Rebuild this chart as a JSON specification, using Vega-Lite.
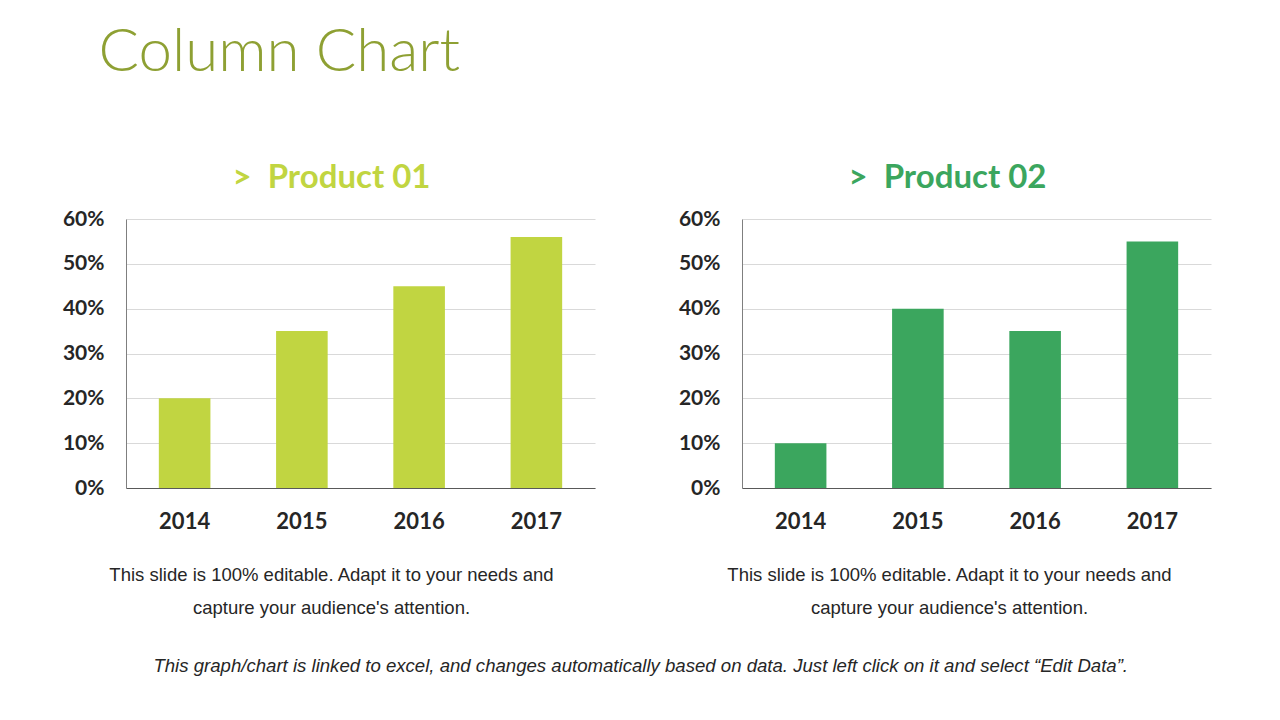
{
  "$schema": "https://vega.github.io/schema/vega-lite/v6.json",
  "background": "white",
  "padding": {"left": 62, "top": 23, "right": 10, "bottom": 10},
  "datasets": {
    "sales": [
      {"product": "Product 01", "year": "2014", "value": 0.20},
      {"product": "Product 01", "year": "2015", "value": 0.35},
      {"product": "Product 01", "year": "2016", "value": 0.45},
      {"product": "Product 01", "year": "2017", "value": 0.56},
      {"product": "Product 02", "year": "2014", "value": 0.10},
      {"product": "Product 02", "year": "2015", "value": 0.40},
      {"product": "Product 02", "year": "2016", "value": 0.35},
      {"product": "Product 02", "year": "2017", "value": 0.55}
    ]
  },
  "title": {
    "text": "Column Chart",
    "anchor": "start",
    "dx": 36,
    "font": "Lato",
    "fontWeight": 300,
    "fontSize": 60,
    "color": "#8EA033",
    "offset": 78
  },
  "vconcat": [
    {
      "title": {
        "text": "This graph/chart is linked to excel, and changes automatically based on data. Just left click on it and select “Edit Data”.",
        "orient": "bottom",
        "anchor": "middle",
        "dx": 4,
        "font": "Liberation Sans",
        "fontStyle": "italic",
        "fontWeight": "normal",
        "fontSize": 18.6,
        "color": "#262626",
        "offset": 40
      },
      "spacing": 83,
      "hconcat": [
        {
          "title": {
            "text": ">\u00a0\u00a0Product 01",
            "font": "Lato",
            "fontWeight": "bold",
            "fontSize": 33,
            "color": "#C1D541",
            "anchor": "middle",
            "dx": -29,
            "offset": 13
          },
          "width": 469,
          "height": 269,
          "data": {"name": "sales"},
          "transform": [{"filter": "datum.product === 'Product 01'"}],
          "mark": {"type": "bar", "color": "#C1D541"},
          "encoding": {
            "x": {
              "field": "year",
              "type": "ordinal",
              "scale": {"paddingInner": 0.56, "paddingOuter": 0.28},
              "axis": {
                "title": ["This slide is 100% editable. Adapt it to your needs and", "capture your audience's attention."],
                "titleX": 205,
                "titleFont": "Liberation Sans",
                "titleFontWeight": "normal",
                "titleFontSize": 18.5,
                "titleColor": "#262626",
                "titleLineHeight": 33,
                "titlePadding": 33,
                "labelAngle": 0,
                "labelFont": "Lato",
                "labelFontWeight": "bold",
                "labelFontSize": 22,
                "labelColor": "#262626",
                "labelPadding": 23,
                "ticks": false,
                "domainColor": "#595959",
                "domainWidth": 1.2
              }
            },
            "y": {
              "field": "value",
              "type": "quantitative",
              "scale": {"domain": [0, 0.6]},
              "axis": {
                "title": null,
                "values": [0, 0.1, 0.2, 0.3, 0.4, 0.5, 0.6],
                "format": ".0%",
                "labelFont": "Lato",
                "labelFontWeight": "bold",
                "labelFontSize": 21,
                "labelColor": "#262626",
                "labelPadding": 22,
                "ticks": false,
                "domainColor": "#7F7F7F",
                "gridColor": "#D9D9D9",
                "gridWidth": 1
              }
            }
          }
        },
        {
          "title": {
            "text": ">\u00a0\u00a0Product 02",
            "font": "Lato",
            "fontWeight": "bold",
            "fontSize": 33,
            "color": "#3BA65E",
            "anchor": "middle",
            "dx": -29,
            "offset": 13
          },
          "width": 469,
          "height": 269,
          "data": {"name": "sales"},
          "transform": [{"filter": "datum.product === 'Product 02'"}],
          "mark": {"type": "bar", "color": "#3BA65E"},
          "encoding": {
            "x": {
              "field": "year",
              "type": "ordinal",
              "scale": {"paddingInner": 0.56, "paddingOuter": 0.28},
              "axis": {
                "title": ["This slide is 100% editable. Adapt it to your needs and", "capture your audience's attention."],
                "titleX": 207,
                "titleFont": "Liberation Sans",
                "titleFontWeight": "normal",
                "titleFontSize": 18.5,
                "titleColor": "#262626",
                "titleLineHeight": 33,
                "titlePadding": 33,
                "labelAngle": 0,
                "labelFont": "Lato",
                "labelFontWeight": "bold",
                "labelFontSize": 22,
                "labelColor": "#262626",
                "labelPadding": 23,
                "ticks": false,
                "domainColor": "#595959",
                "domainWidth": 1.2
              }
            },
            "y": {
              "field": "value",
              "type": "quantitative",
              "scale": {"domain": [0, 0.6]},
              "axis": {
                "title": null,
                "values": [0, 0.1, 0.2, 0.3, 0.4, 0.5, 0.6],
                "format": ".0%",
                "labelFont": "Lato",
                "labelFontWeight": "bold",
                "labelFontSize": 21,
                "labelColor": "#262626",
                "labelPadding": 22,
                "ticks": false,
                "domainColor": "#7F7F7F",
                "gridColor": "#D9D9D9",
                "gridWidth": 1
              }
            }
          }
        }
      ]
    }
  ],
  "config": {"view": {"stroke": null}}
}
